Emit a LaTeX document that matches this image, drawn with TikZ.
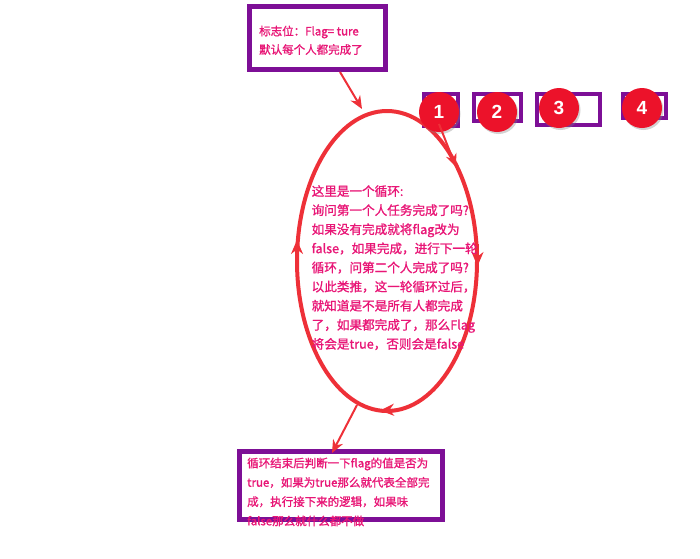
\documentclass[tikz,border=0pt]{standalone}
\usepackage{fontspec}
\usetikzlibrary{shapes.geometric,arrows.meta,shadows}
\newfontfamily\cjk[FakeBold=1.2]{Noto Sans CJK SC}
\newfontfamily\numfont{Liberation Sans}
\definecolor{boxpurple}{RGB}{125,15,150}
\definecolor{loopred}{RGB}{238,48,56}
\definecolor{txtpink}{RGB}{232,22,118}
\definecolor{ballred}{RGB}{236,18,42}
\begin{document}
\begin{tikzpicture}[x=1pt,y=-1pt,
  pbox/.style={draw=boxpurple, fill=white, line width=4.5pt, inner sep=0pt, outer sep=0pt,
    drop shadow={shadow xshift=2.5pt, shadow yshift=-2.5pt, opacity=0.35}},
  sbox/.style={draw=boxpurple, fill=white, line width=4pt, inner sep=0pt, outer sep=0pt,
    drop shadow={shadow xshift=2pt, shadow yshift=-2pt, opacity=0.35}},
  ball/.style={circle, fill=ballred, minimum size=40pt, inner sep=0pt,
    drop shadow={shadow xshift=1.5pt, shadow yshift=-2pt, opacity=0.35},
    font=\numfont\bfseries\fontsize{19}{19}\selectfont, text=white},
  ptext/.style={text=txtpink, align=left, inner sep=0pt, anchor=north west},
  redline/.style={draw=loopred, line width=2pt, -{Stealth[length=13pt,width=11pt]}},
  loophead/.style={draw=loopred, line width=2pt, -{Stealth[length=14pt,width=12pt]}}
]
\useasboundingbox (0,0) rectangle (700,558);

% top box
\node[pbox, minimum width=136pt, minimum height=63pt] (top) at (317.5,38) {};
\node[ptext, font=\cjk\fontsize{11.5}{18.5}\selectfont] (toptext) at (259,25.5)
  {标志位：Flag= ture\\默认每个人都完成了};

% small boxes
\node[sbox, minimum width=34pt, minimum height=32pt] (b1) at (441,110) {};
\node[sbox, minimum width=47pt, minimum height=27pt] (b2) at (497.5,107.5) {};
\node[sbox, minimum width=63pt, minimum height=31pt] (b3) at (568.5,109.5) {};
\node[sbox, minimum width=43pt, minimum height=24pt] (b4) at (644.5,106) {};

% loop ellipse
\node[ellipse, draw=loopred, line width=4pt, minimum width=180pt, minimum height=300pt,
  inner sep=0pt] (loop) at (387,261) {};

% arrowheads on the ellipse
\coordinate (rA) at (477.5,244);
\coordinate (rB) at (477.5,266);
\draw[loophead] (rA) -- (rB);
\coordinate (dA) at (400,409.5);
\coordinate (dB) at (380,410.5);
\draw[loophead] (dA) -- (dB);
\coordinate (lA) at (297,262);
\coordinate (lB) at (297,240);
\draw[loophead] (lA) -- (lB);

% text inside the loop
\node[ptext, font=\cjk\fontsize{12.6}{19.1}\selectfont] (looptext) at (311.5,185)
  {这里是一个循环:\\
   询问第一个人任务完成了吗?\\
   如果没有完成就将flag改为\\
   false，如果完成，进行下一轮\\
   循环，问第二个人完成了吗?\\
   以此类推，这一轮循环过后，\\
   就知道是不是所有人都完成\\
   了，如果都完成了，那么Flag\\
   将会是true，否则会是false};

% bottom box
\node[pbox, minimum width=203pt, minimum height=68pt] (bottom) at (341,485.5) {};
\node[ptext, font=\cjk\fontsize{11.5}{19.3}\selectfont] (bottomtext) at (247,457.5)
  {循环结束后判断一下flag的值是否为\\
   true，如果为true那么就代表全部完\\
   成，执行接下来的逻辑，如果味\\
   false那么就什么都不做};

% connectors
\coordinate (topstart) at (340,72);
\coordinate (topend) at (362,109);
\draw[redline] (topstart) -- (topend);
\coordinate (botstart) at (357,405);
\coordinate (botend) at (332,453);
\draw[redline] (botstart) -- (botend);

% numbered balls
\node[ball] (c1) at (439,112) {1};
\node[ball] (c2) at (497,112) {2};
\node[ball] (c3) at (559,108) {3};
\node[ball] (c4) at (642,108) {4};

\coordinate (c1end) at (456,167);
\draw[redline] ([yshift=-12pt]c1.center) -- (c1end);
\end{tikzpicture}
\end{document}
